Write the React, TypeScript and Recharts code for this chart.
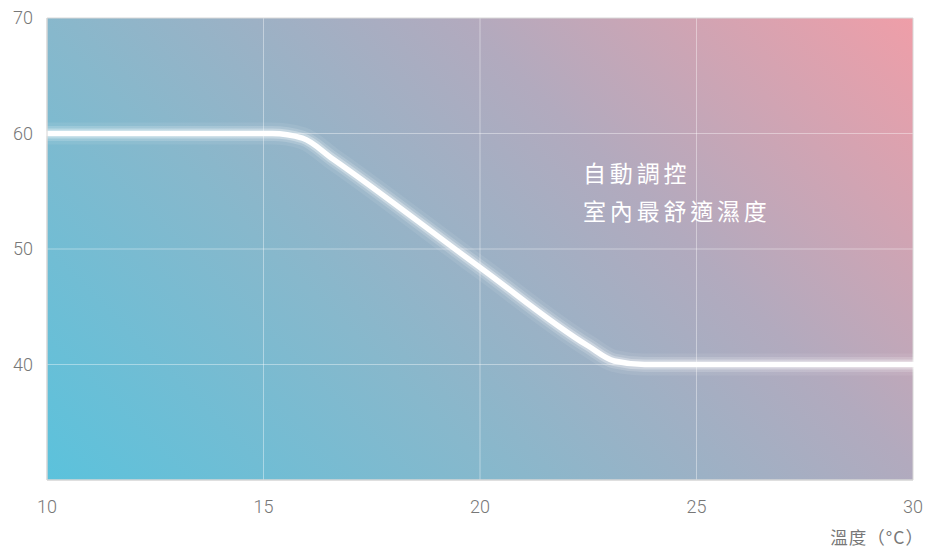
import React from "react";
import { LineChart, Line, XAxis, YAxis, CartesianGrid, ReferenceArea, ReferenceDot } from "recharts";

const temperatures = [10, 15.2, 15.9, 16.6, 20, 22.5, 23.1, 23.8, 30];
const humidity = [60, 60, 59.6, 57.8, 48.4, 41.6, 40.3, 40, 40];
const xTicks = [10, 15, 20, 25, 30];
const yTicks = [40, 50, 60, 70];
const noteLines = ["自動調控", "室內最舒適濕度"];
const xAxisTitle = "溫度（°C）";

const data = temperatures.map((t, i) => ({ t, h: humidity[i] }));

const numFont = "Roboto, 'DejaVu Sans', sans-serif";
const cjkFont = "'Noto Sans CJK TC', 'Noto Sans CJK SC', sans-serif";

const NoteLabel = (props: any) => {
  const vb = props.viewBox || {};
  const x = vb.cx !== undefined ? vb.cx : vb.x;
  const y = vb.cy !== undefined ? vb.cy : vb.y;
  return (
    <text x={x} y={y} fill="#ffffff" fontSize={23} fontFamily={cjkFont} letterSpacing={3.8}>
      {noteLines.map((l, i) => (
        <tspan key={i} x={x} dy={i === 0 ? 7 : 38}>
          {l}
        </tspan>
      ))}
    </text>
  );
};

const AxisTitle = (props: any) => {
  const vb = props.viewBox || {};
  return (
    <text
      x={vb.x + vb.width + 11}
      y={vb.y + 64}
      textAnchor="end"
      fill="#777"
      fontSize={17.5}
      fontFamily={cjkFont}
      letterSpacing={1}
    >
      {xAxisTitle}
    </text>
  );
};

export default function App() {
  const glow = [
    { w: 22, o: 0.08 },
    { w: 15, o: 0.16 },
    { w: 10, o: 0.3 },
    { w: 5.5, o: 1 },
  ];
  return (
    <div style={{ position: "absolute", left: 0, top: 0, width: 929, height: 550 }}>
      <LineChart width={929} height={550} data={data} margin={{ top: 18, right: 16, left: 0, bottom: 0 }}>
        <defs>
          <linearGradient id="bg" gradientUnits="userSpaceOnUse" x1={47} y1={480} x2={711} y2={-184}>
            <stop offset="0" stopColor="#5bc2dc" />
            <stop offset="0.34" stopColor="#87b8cc" />
            <stop offset="0.66" stopColor="#b2aabe" />
            <stop offset="1" stopColor="#ef9ea8" />
          </linearGradient>
        </defs>
        <CartesianGrid
          fill="url(#bg)"
          fillOpacity={1}
          stroke="rgba(255,255,255,0.4)"
          strokeWidth={1}
          horizontalValues={[40, 50, 60]}
          verticalValues={[15, 20, 25]}
        />
        <XAxis
          dataKey="t"
          type="number"
          domain={[10, 30]}
          ticks={xTicks}
          height={70}
          tickLine={false}
          tickSize={0}
          tickMargin={20}
          axisLine={{ stroke: "#d4d4d4" }}
          tick={{ fill: "#777", fontSize: 18, fontFamily: numFont, fontWeight: 300 }}
          interval={0}
          label={<AxisTitle />}
        />
        <YAxis
          type="number"
          domain={[30, 70]}
          ticks={yTicks}
          width={47}
          tickLine={false}
          tickSize={0}
          tickMargin={14}
          axisLine={{ stroke: "#d4d4d4" }}
          tick={{ fill: "#777", fontSize: 18, fontFamily: numFont, fontWeight: 300 }}
          interval={0}
        />
        <ReferenceArea x1={10} x2={30} y1={30} y2={70} fill="none" stroke="#d8d8d8" strokeWidth={1} />
        {glow.map((g, i) => (
          <Line
            key={i}
            dataKey="h"
            type="monotone"
            stroke="#ffffff"
            strokeOpacity={g.o}
            strokeWidth={g.w}
            strokeLinecap="round"
            dot={false}
            activeDot={false}
            isAnimationActive={false}
          />
        ))}
        <ReferenceDot x={22.38} y={56.4} r={0} fill="none" stroke="none" label={<NoteLabel />} />
      </LineChart>
    </div>
  );
}
